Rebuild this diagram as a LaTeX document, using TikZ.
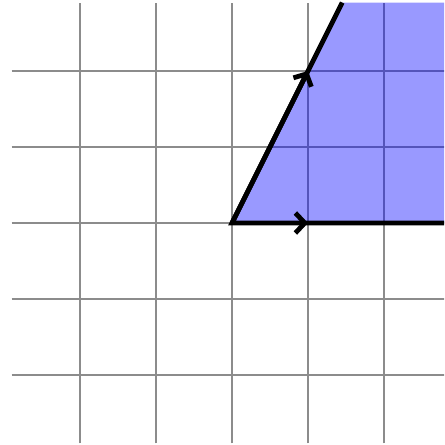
\documentclass[tikz,border=0pt]{standalone}
\usetikzlibrary{arrows.meta,decorations.markings}
\begin{document}
\begin{tikzpicture}[
  gridline/.style={gray!90, line width=0.45pt},
  region/.style={fill=blue, fill opacity=0.4},
  ray/.style={line width=1.8pt, line cap=butt},
  vec/.style={line width=1.8pt, -{Straight Barb[length=3.5pt,width=7.5pt]}}
]
\useasboundingbox (-3.053,-2.921) rectangle (2.789,2.934);
\clip (-3.053,-2.921) rectangle (2.789,2.934);
\draw[gridline] (-2.9,-2.9) grid (2.9,2.9);
\coordinate (O) at (0,0);
\coordinate (E) at (3,0);
\coordinate (T) at (1.45,2.9);
\coordinate (C) at (3,2.9);
\coordinate (u) at (1,0);
\coordinate (v) at (1,2);
\fill[region] (O) -- (E) -- (C) -- (T) -- cycle;
\draw[ray] (T) -- (O) -- (E);
\draw[vec] (O) -- (u);
\draw[vec] (O) -- (v);
\end{tikzpicture}
\end{document}
